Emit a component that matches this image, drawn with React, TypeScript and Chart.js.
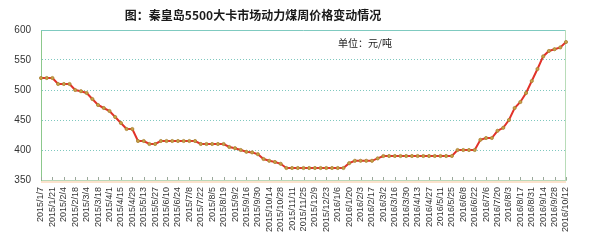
import React, { useEffect, useRef } from "react";
import { Chart, registerables } from "chart.js";

Chart.register(...registerables);

const TITLE = "图：秦皇岛5500大卡市场动力煤周价格变动情况";
const UNIT = "单位：元/吨";

const weeks: string[] = [
  "2015/1/7", "2015/1/14", "2015/1/21", "2015/1/28",
  "2015/2/4", "2015/2/11", "2015/2/18", "2015/2/25",
  "2015/3/4", "2015/3/11", "2015/3/18", "2015/3/25",
  "2015/4/1", "2015/4/8", "2015/4/15", "2015/4/22", "2015/4/29",
  "2015/5/6", "2015/5/13", "2015/5/20", "2015/5/27",
  "2015/6/3", "2015/6/10", "2015/6/17", "2015/6/24",
  "2015/7/1", "2015/7/8", "2015/7/15", "2015/7/22", "2015/7/29",
  "2015/8/5", "2015/8/12", "2015/8/19", "2015/8/26",
  "2015/9/2", "2015/9/9", "2015/9/16", "2015/9/23", "2015/9/30",
  "2015/10/7", "2015/10/14", "2015/10/21", "2015/10/28",
  "2015/11/4", "2015/11/11", "2015/11/18", "2015/11/25",
  "2015/12/2", "2015/12/9", "2015/12/16", "2015/12/23", "2015/12/30",
  "2016/1/6", "2016/1/13", "2016/1/20", "2016/1/27",
  "2016/2/3", "2016/2/10", "2016/2/17", "2016/2/24",
  "2016/3/2", "2016/3/9", "2016/3/16", "2016/3/23", "2016/3/30",
  "2016/4/6", "2016/4/13", "2016/4/20", "2016/4/27",
  "2016/5/4", "2016/5/11", "2016/5/18", "2016/5/25",
  "2016/6/1", "2016/6/8", "2016/6/15", "2016/6/22", "2016/6/29",
  "2016/7/6", "2016/7/13", "2016/7/20", "2016/7/27",
  "2016/8/3", "2016/8/10", "2016/8/17", "2016/8/24", "2016/8/31",
  "2016/9/7", "2016/9/14", "2016/9/21", "2016/9/28",
  "2016/10/5", "2016/10/12",
];

const prices: number[] = [
  520, 520, 520, 510, 510, 510, 500, 498, 495, 485,
  475, 470, 465, 455, 445, 435, 435, 415, 415, 410,
  410, 415, 415, 415, 415, 415, 415, 415, 410, 410,
  410, 410, 410, 405, 403, 400, 397, 396, 393, 385,
  382, 380, 377, 370, 370, 370, 370, 370, 370, 370,
  370, 370, 370, 370, 378, 382, 382, 382, 382, 386,
  390, 390, 390, 390, 390, 390, 390, 390, 390, 390,
  390, 390, 390, 400, 400, 400, 400, 417, 420, 420,
  432, 437, 450, 470, 480, 495, 515, 535, 556, 565,
  568, 571, 580,
];

const yTicks: number[] = [350, 400, 450, 500, 550, 600];

const decor = {
  id: "decor",
  beforeDatasetsDraw(chart: any) {
    const { ctx, chartArea } = chart;
    const { left, right, top, bottom } = chartArea;
    ctx.save();
    // top solid line
    ctx.strokeStyle = "#7fcac0";
    ctx.lineWidth = 1;
    ctx.beginPath();
    ctx.moveTo(left, top + 0.5);
    ctx.lineTo(right, top + 0.5);
    ctx.stroke();
    // right border
    ctx.strokeStyle = "#b8dcb8";
    ctx.beginPath();
    ctx.moveTo(right - 0.5, top);
    ctx.lineTo(right - 0.5, bottom);
    ctx.stroke();
    // peach band under x axis
    ctx.fillStyle = "#fbe2cc";
    ctx.fillRect(left, bottom + 1, right - left, 2);
    // inside tick marks
    const xs = chart.scales.x;
    ctx.strokeStyle = "#9aa89a";
    for (let i = 0; i < weeks.length; i += 2) {
      const px = Math.round(xs.getPixelForValue(i)) + 0.5;
      ctx.beginPath();
      ctx.moveTo(px, bottom);
      ctx.lineTo(px, bottom - 3);
      ctx.stroke();
    }
    ctx.restore();
  },
  afterDraw(chart: any) {
    const { ctx } = chart;
    ctx.save();
    ctx.fillStyle = "#1a1a1a";
    ctx.textBaseline = "middle";
    ctx.textAlign = "center";
    ctx.font = 'bold 12px "Noto Sans CJK SC", sans-serif';
    ctx.fillText(TITLE, 253, 15);
    ctx.textAlign = "left";
    ctx.font = '10px "Noto Sans CJK SC", sans-serif';
    ctx.fillText(UNIT, 338, 43);
    ctx.restore();
  },
};

export default function App() {
  const ref = useRef<HTMLCanvasElement | null>(null);
  useEffect(() => {
    if (!ref.current) return;
    const chart = new Chart(ref.current, {
      type: "line",
      data: {
        labels: weeks,
        datasets: [
          {
            data: prices,
            borderColor: "#e2322a",
            borderWidth: 2,
            pointRadius: 1.6,
            pointBackgroundColor: "#c9a046",
            pointBorderColor: "#a88232",
            pointBorderWidth: 0.8,
            tension: 0,
          },
        ],
      },
      options: {
        responsive: false,
        animation: false,
        layout: { padding: { left: 0, right: 34, top: 30, bottom: 0 } },
        plugins: {
          legend: { display: false },
          tooltip: { enabled: false },
        },
        scales: {
          x: {
            type: "category",
            offset: false,
            grid: { display: false, drawTicks: false },
            border: { display: true, color: "#b9d8b9", width: 1 },
            ticks: {
              autoSkip: false,
              maxRotation: 90,
              minRotation: 90,
              padding: 7,
              color: "#333",
              font: { family: '"Liberation Sans", Arial, sans-serif', size: 9 },
              callback: (_v: any, i: number) => (i % 2 === 0 ? weeks[i] : ""),
            },
            afterFit: (s: any) => {
              s.height = 69;
            },
          },
          y: {
            min: 350,
            max: 600,
            afterBuildTicks: (s: any) => {
              s.ticks = yTicks.map((v) => ({ value: v }));
            },
            grid: {
              drawTicks: false,
              color: (c: any) =>
                c.tick && (c.tick.value === 600 || c.tick.value === 350) ? "rgba(0,0,0,0)" : "#7fc8bf",
              lineWidth: 1,
            },
            border: { display: true, color: "#8cc88c", width: 1, dash: [1, 2] },
            ticks: {
              padding: 10,
              color: "#333",
              font: { family: '"Liberation Sans", Arial, sans-serif', size: 10 },
            },
            afterFit: (s: any) => {
              s.width = 41;
            },
          },
        },
      },
      plugins: [decor],
    });
    return () => chart.destroy();
  }, []);
  return (
    <div style={{ position: "fixed", left: 0, top: 0, width: 600, height: 249, background: "#fff" }}>
      <canvas ref={ref} width={600} height={249} style={{ display: "block" }} />
    </div>
  );
}
